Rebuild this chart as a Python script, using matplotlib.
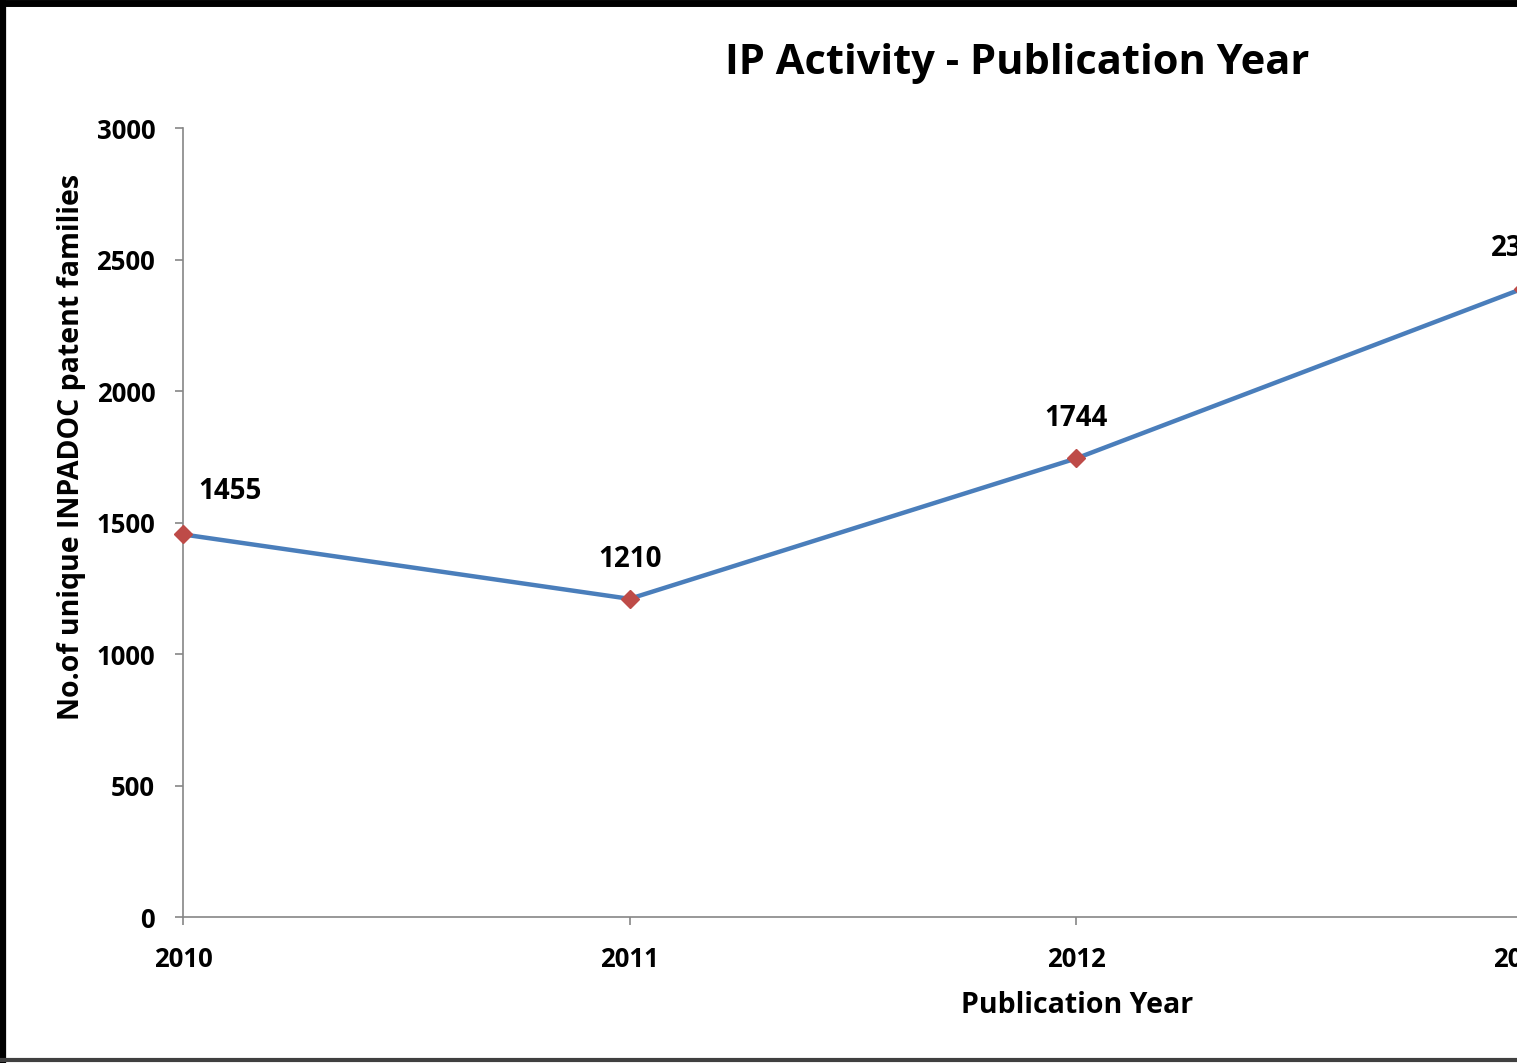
import matplotlib
matplotlib.use('Agg')
import matplotlib.pyplot as plt
from matplotlib.lines import Line2D

years = [2010, 2011, 2012, 2013]
families = [1455, 1210, 1744, 2390]
yticks = [0, 500, 1000, 1500, 2000, 2500, 3000]

plt.rcParams['font.family'] = ['Open Sans', 'DejaVu Sans']
plt.rcParams['font.weight'] = 'bold'

fig = plt.figure(figsize=(15.17, 10.63), dpi=100)
ax = fig.add_axes([0.1206, 0.1373, 0.8833, 0.7422])

ax.plot(years, families, color='#4A7EBB', lw=3.2, marker='D', ms=9.5,
        mfc='#BE4B48', mec='#BE4B48', clip_on=False, zorder=3)
for i, (x, v) in enumerate(zip(years, families)):
    # first label is pushed right, away from the axis
    dx = 34 if i == 0 else 0
    dy = 31 if i == 0 else 28.5
    ax.annotate(str(v), (x, v), xytext=(dx, dy), textcoords='offset points',
                ha='center', va='center', fontsize=20, fontweight='bold',
                annotation_clip=False)

ax.set_xlim(2010, 2013)
ax.set_ylim(0, 3000)
ax.set_xticks(years)
ax.set_yticks(yticks)
ax.tick_params(axis='both', direction='out', length=6, width=1.2,
               color='#868686', labelsize=18.5)
ax.tick_params(axis='y', pad=14)
ax.tick_params(axis='x', pad=15)
for s in ['top', 'right']:
    ax.spines[s].set_visible(False)
for s in ['left', 'bottom']:
    ax.spines[s].set_color('#868686')
    ax.spines[s].set_linewidth(1.2)

ax.set_xlabel('Publication Year', fontsize=20.5, fontweight='bold')
ax.set_ylabel('No.of unique INPADOC patent families', fontsize=20.5, fontweight='bold')
ax.xaxis.set_label_coords(0.667, -0.094)
ax.yaxis.set_label_coords(-0.0724, 0.596)

fig.text(0.6704, 0.9407, 'IP Activity - Publication Year', ha='center', va='center',
         fontsize=30, fontweight='bold')

# frame of the screenshot
fig.add_artist(Line2D([0.002, 0.002], [0, 1], transform=fig.transFigure, color='black', lw=4.5))
fig.add_artist(Line2D([0, 1], [0.997, 0.997], transform=fig.transFigure, color='black', lw=5))
fig.add_artist(Line2D([0, 1], [0.0025, 0.0025], transform=fig.transFigure, color='#404040', lw=3))

fig.savefig('out.png', dpi=100)
